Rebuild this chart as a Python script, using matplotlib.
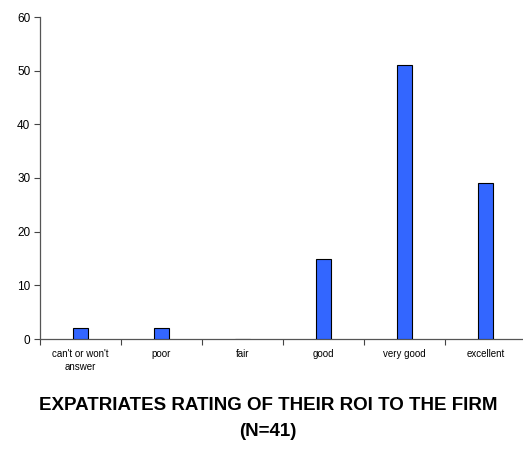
import matplotlib
matplotlib.use('Agg')
import matplotlib.pyplot as plt
import numpy as np

plt.rcParams['font.family'] = ['Liberation Sans', 'DejaVu Sans']

# ratings (percent of respondents)
categories = ["can't or won't\nanswer", 'poor', 'fair', 'good', 'very good', 'excellent']
values = [2, 2, 0, 15, 51, 29]
y_ticks = [0, 10, 20, 30, 40, 50, 60]
title_1 = 'EXPATRIATES RATING OF THEIR ROI TO THE FIRM'
title_2 = '(N=41)'


####################################################
def plotter():
    fig = plt.figure(figsize=(5.23, 4.49), dpi=100)
    ax = fig.add_axes([40 / 523, 110 / 449, 486 / 523, 322 / 449])

    x = np.arange(len(categories)) + 0.5
    ax.bar(x, values, width=0.19, color='#3366FF', edgecolor='black', linewidth=0.8, zorder=3)

    ax.set_xlim(0, len(categories))
    ax.set_ylim(0, 60)
    ax.set_yticks(y_ticks)
    ax.tick_params(axis='y', labelsize=8.5, length=4, width=0.8, color='#444444', pad=3)

    # ticks sit between categories, labels under the middle
    ax.set_xticks(np.arange(len(categories) + 1))
    ax.set_xticklabels([])
    ax.set_xticks(x, minor=True)
    ax.set_xticklabels(categories, minor=True, fontsize=7, linespacing=1.45)
    ax.tick_params(axis='x', which='minor', length=0, pad=7)
    ax.tick_params(axis='x', which='major', length=4, width=0.8, color='#444444')

    for side in ['top', 'right']:
        ax.spines[side].set_visible(False)
    for side in ['left', 'bottom']:
        ax.spines[side].set_color('#555555')
        ax.spines[side].set_linewidth(0.9)

    fig.text(268 / 523, 1 - 405 / 449, title_1, ha='center', va='center',
             fontsize=13.5, fontweight='bold')
    fig.text(268 / 523, 1 - 432 / 449, title_2, ha='center', va='center',
             fontsize=13.5, fontweight='bold')

    fig.savefig('out.png', dpi=100)


####################################################
if __name__ == "__main__":
    plotter()
